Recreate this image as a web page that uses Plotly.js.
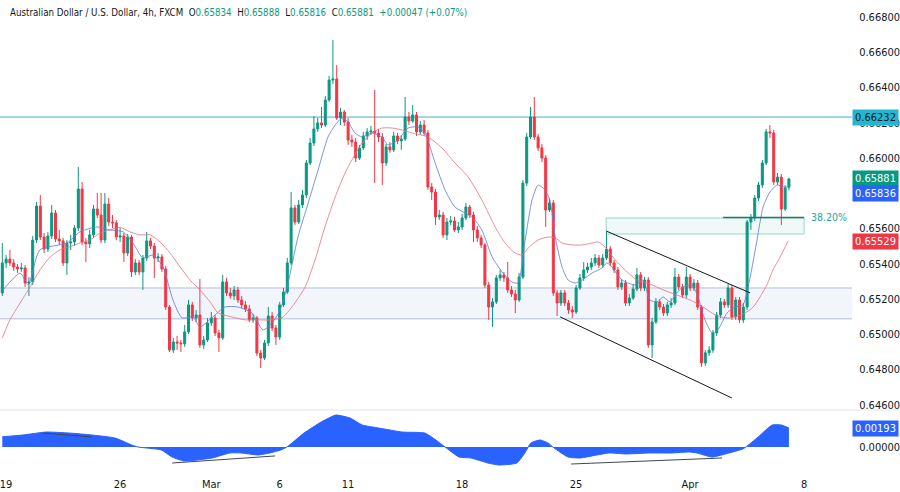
<!DOCTYPE html>
<html><head><meta charset="utf-8">
<script src="https://cdn.plot.ly/plotly-3.0.1.min.js"></script>
<style>html,body{margin:0;padding:0;background:#fff;overflow:hidden}#chart{width:900px;height:492px}</style>
</head><body><div id="chart"></div>
<script>
// ---- candle data (AUD/USD 4h, FXCM) ----
const open = [
0.65235,0.65405,0.65427,0.65405,0.65382,0.65371,0.65376,0.65291,0.65297,0.65535,
0.65728,0.65552,0.65484,0.65558,0.65688,0.65541,0.65530,0.65405,0.65518,0.65524,
0.65603,0.65824,0.65524,0.65513,0.65564,0.65711,0.65677,0.65535,0.65739,0.65637,
0.65632,0.65552,0.65558,0.65461,0.65552,0.65354,0.65405,0.65354,0.65433,0.65530,
0.65501,0.65433,0.65439,0.65371,0.65155,0.64911,0.64957,0.64951,0.64946,0.65014,
0.65167,0.65093,0.65110,0.64940,0.64968,0.65065,0.65093,0.65008,0.64980,0.65297,
0.65235,0.65218,0.65252,0.65195,0.65167,0.65144,0.65082,0.65093,0.64894,0.64866,
0.64951,0.65104,0.65036,0.64985,0.65167,0.65240,0.65405,0.65717,0.65637,0.65734,
0.65790,0.65972,0.66085,0.66165,0.66199,0.66187,0.66329,0.66442,0.66448,0.66227,
0.66261,0.66204,0.66102,0.66091,0.66000,0.66057,0.66125,0.66148,0.66153,0.66142,
0.66119,0.65972,0.66063,0.66046,0.66125,0.66097,0.66108,0.66233,0.66210,0.66244,
0.66148,0.66187,0.66142,0.65836,0.65807,0.65666,0.65677,0.65564,0.65637,0.65643,
0.65592,0.65609,0.65660,0.65722,0.65677,0.65592,0.65547,0.65507,0.65280,0.65155,
0.65184,0.65320,0.65337,0.65320,0.65252,0.65229,0.65195,0.65325,0.65858,0.66119,
0.66233,0.66119,0.66057,0.66000,0.65705,0.65745,0.65235,0.65178,0.65235,0.65178,
0.65138,0.65127,0.65263,0.65320,0.65365,0.65382,0.65405,0.65433,0.65393,0.65433,
0.65484,0.65405,0.65365,0.65269,0.65291,0.65178,0.65206,0.65257,0.65337,0.65263,
0.65308,0.64940,0.65070,0.65184,0.65155,0.65121,0.65167,0.65178,0.65325,0.65269,
0.65223,0.65325,0.65263,0.65291,0.65155,0.64838,0.64895,0.64911,0.65008,0.65110,
0.65184,0.65167,0.65263,0.65099,0.65195,0.65082,0.65155,0.65637,0.65660,0.65773,
0.65847,0.65972,0.66148,0.66142,0.65864,0.65892,0.65711,0.65834];
const high = [
0.65518,0.65450,0.65478,0.65427,0.65399,0.65405,0.65393,0.65325,0.65558,0.65751,
0.65790,0.65575,0.65581,0.65734,0.65705,0.65592,0.65547,0.65535,0.65564,0.65620,
0.65949,0.65864,0.65547,0.65592,0.65734,0.65802,0.65802,0.65802,0.65773,0.65677,
0.65649,0.65603,0.65575,0.65569,0.65564,0.65427,0.65422,0.65450,0.65581,0.65547,
0.65518,0.65461,0.65456,0.65388,0.65167,0.64980,0.64991,0.64968,0.65053,0.65195,
0.65184,0.65138,0.65314,0.64991,0.65093,0.65127,0.65110,0.65025,0.65337,0.65320,
0.65263,0.65274,0.65269,0.65218,0.65189,0.65167,0.65116,0.65104,0.64911,0.64968,
0.65155,0.65127,0.65053,0.65184,0.65263,0.65433,0.65807,0.65734,0.65762,0.65819,
0.65989,0.66114,0.66238,0.66227,0.66289,0.66352,0.66465,0.66669,0.66527,0.66284,
0.66272,0.66227,0.66131,0.66114,0.66074,0.66148,0.66170,0.66182,0.66386,0.66165,
0.66142,0.66080,0.66091,0.66148,0.66142,0.66131,0.66346,0.66261,0.66301,0.66261,
0.66210,0.66216,0.66159,0.65858,0.65824,0.65705,0.65694,0.65660,0.65671,0.65666,
0.65637,0.65683,0.65745,0.65734,0.65694,0.65615,0.65564,0.65518,0.65297,0.65206,
0.65337,0.65365,0.65354,0.65410,0.65274,0.65252,0.65348,0.65875,0.66142,0.66289,
0.66346,0.66136,0.66080,0.66017,0.65773,0.65762,0.65252,0.65252,0.65252,0.65195,
0.65161,0.65280,0.65342,0.65410,0.65405,0.65433,0.65456,0.65450,0.65456,0.65581,
0.65501,0.65422,0.65382,0.65314,0.65308,0.65229,0.65286,0.65376,0.65354,0.65325,
0.65325,0.65093,0.65206,0.65201,0.65172,0.65184,0.65206,0.65376,0.65342,0.65286,
0.65382,0.65342,0.65314,0.65308,0.65167,0.64911,0.64934,0.65025,0.65127,0.65206,
0.65201,0.65286,0.65280,0.65212,0.65212,0.65178,0.65649,0.65683,0.65790,0.65864,
0.65989,0.66165,0.66187,0.66159,0.65915,0.65909,0.65847,0.65888];
const low = [
0.65218,0.65376,0.65388,0.65359,0.65348,0.65354,0.65269,0.65218,0.65280,0.65518,
0.65535,0.65461,0.65467,0.65541,0.65524,0.65507,0.65388,0.65337,0.65478,0.65501,
0.65586,0.65507,0.65410,0.65490,0.65547,0.65660,0.65518,0.65518,0.65615,0.65603,
0.65535,0.65524,0.65410,0.65444,0.65325,0.65337,0.65337,0.65252,0.65416,0.65484,
0.65320,0.65410,0.65354,0.65138,0.64900,0.64894,0.64911,0.64900,0.64929,0.65002,
0.65076,0.65070,0.64923,0.64917,0.64957,0.65048,0.64991,0.64900,0.64968,0.65218,
0.65201,0.65195,0.65178,0.65150,0.65127,0.65070,0.65065,0.64877,0.64809,0.64855,
0.64934,0.65019,0.64940,0.64968,0.65155,0.65229,0.65393,0.65620,0.65626,0.65717,
0.65773,0.65960,0.66068,0.66148,0.66170,0.66176,0.66318,0.66420,0.66216,0.66187,
0.66182,0.66074,0.66063,0.65977,0.65989,0.66046,0.66102,0.66131,0.65858,0.66091,
0.65847,0.65955,0.66029,0.66034,0.66080,0.66046,0.66097,0.66187,0.66199,0.66125,
0.66131,0.66125,0.65819,0.65762,0.65620,0.65649,0.65547,0.65535,0.65620,0.65581,
0.65575,0.65592,0.65649,0.65660,0.65524,0.65524,0.65490,0.65263,0.65082,0.65042,
0.65172,0.65303,0.65297,0.65235,0.65212,0.65121,0.65184,0.65314,0.65841,0.66108,
0.66102,0.66040,0.65977,0.65609,0.65694,0.65218,0.65104,0.65161,0.65161,0.65116,
0.65093,0.65116,0.65252,0.65303,0.65348,0.65365,0.65388,0.65376,0.65376,0.65422,
0.65388,0.65348,0.65252,0.65252,0.65161,0.65161,0.65195,0.65246,0.65246,0.65246,
0.64923,0.64866,0.65059,0.65138,0.65104,0.65104,0.65150,0.65167,0.65252,0.65206,
0.65206,0.65246,0.65246,0.65138,0.64815,0.64821,0.64877,0.64895,0.64991,0.65093,
0.65150,0.65150,0.65082,0.65082,0.65065,0.65065,0.65138,0.65592,0.65643,0.65756,
0.65830,0.65960,0.66114,0.65847,0.65847,0.65620,0.65700,0.65816];
const close = [
0.65405,0.65427,0.65405,0.65382,0.65371,0.65376,0.65291,0.65297,0.65535,0.65728,
0.65552,0.65484,0.65558,0.65688,0.65541,0.65530,0.65405,0.65518,0.65524,0.65603,
0.65824,0.65524,0.65513,0.65564,0.65711,0.65677,0.65535,0.65739,0.65637,0.65632,
0.65552,0.65558,0.65461,0.65552,0.65354,0.65405,0.65354,0.65433,0.65530,0.65501,
0.65433,0.65439,0.65371,0.65155,0.64911,0.64957,0.64951,0.64946,0.65014,0.65167,
0.65093,0.65110,0.64940,0.64968,0.65065,0.65093,0.65008,0.64980,0.65297,0.65235,
0.65218,0.65252,0.65195,0.65167,0.65144,0.65082,0.65093,0.64894,0.64866,0.64951,
0.65104,0.65036,0.64985,0.65167,0.65240,0.65405,0.65717,0.65637,0.65734,0.65790,
0.65972,0.66085,0.66165,0.66199,0.66187,0.66329,0.66442,0.66448,0.66227,0.66261,
0.66204,0.66102,0.66091,0.66000,0.66057,0.66125,0.66148,0.66153,0.66142,0.66119,
0.65972,0.66063,0.66046,0.66125,0.66097,0.66108,0.66233,0.66210,0.66244,0.66148,
0.66187,0.66142,0.65836,0.65807,0.65666,0.65677,0.65564,0.65637,0.65643,0.65592,
0.65609,0.65660,0.65722,0.65677,0.65592,0.65547,0.65507,0.65280,0.65155,0.65184,
0.65320,0.65337,0.65320,0.65252,0.65229,0.65195,0.65325,0.65858,0.66119,0.66233,
0.66119,0.66057,0.66000,0.65705,0.65745,0.65235,0.65178,0.65235,0.65178,0.65138,
0.65127,0.65263,0.65320,0.65365,0.65382,0.65405,0.65433,0.65393,0.65433,0.65484,
0.65405,0.65365,0.65269,0.65291,0.65178,0.65206,0.65257,0.65337,0.65263,0.65308,
0.64940,0.65070,0.65184,0.65155,0.65121,0.65167,0.65178,0.65325,0.65269,0.65223,
0.65325,0.65263,0.65291,0.65155,0.64838,0.64895,0.64911,0.65008,0.65110,0.65184,
0.65167,0.65263,0.65099,0.65195,0.65082,0.65155,0.65637,0.65660,0.65773,0.65847,
0.65972,0.66148,0.66142,0.65864,0.65892,0.65711,0.65830,0.65881];

// ---- moving averages (bar position, value) ----
const fastMaBar = [0.2,4.7,6.8,9.9,17.0,20.4,24.9,28.3,31.8,34.4,37.0,39.7,42.3,44.9,47.3,50.2,52.0,55.4,58.6,62.0,65.7,68.6,71.0,73.1,75.2,77.8,80.5,83.1,85.7,87.6,89.4,91.0,92.8,94.7,97.3,99.9,101.5,104.1,106.8,109.4,111.2,113.9,116.5,119.1,121.8,123.9,126.2,128.9,131.5,134.1,135.7,137.6,139.4,141.0,142.8,144.1,145.5,147.3,148.9,150.7,152.6,155.2,157.8,159.1,160.4,163.1,166.5,168.6,170.4,172.3,173.9,175.7,177.5,179.1,181.5,183.1,184.9,186.8,188.3,190.7,192.8,194.9,196.8,198.6,200.2,202.0,203.9,205.5,206.8];
const fastMaVal = [0.65252,0.65348,0.65280,0.65479,0.65518,0.65581,0.65609,0.65592,0.65581,0.65518,0.65433,0.65450,0.65382,0.65195,0.65093,0.65099,0.65042,0.65099,0.65155,0.65155,0.65121,0.65025,0.65065,0.65138,0.65291,0.65552,0.65745,0.65932,0.66119,0.66187,0.66227,0.66204,0.66142,0.66119,0.66142,0.66119,0.66074,0.66102,0.66170,0.66176,0.66142,0.65972,0.65819,0.65722,0.65688,0.65660,0.65592,0.65439,0.65354,0.65297,0.65291,0.65535,0.65762,0.65847,0.65819,0.65762,0.65552,0.65382,0.65308,0.65291,0.65308,0.65348,0.65376,0.65405,0.65382,0.65308,0.65280,0.65308,0.65195,0.65184,0.65212,0.65184,0.65235,0.65269,0.65280,0.65212,0.65082,0.65008,0.65025,0.65121,0.65155,0.65167,0.65325,0.65535,0.65722,0.65807,0.65847,0.65836,0.65836];
const slowMaBar = [0,2.0,4.7,7.3,9.9,12.6,15.2,17.8,20.4,23.1,25.7,28.3,31.0,33.6,36.2,38.9,41.5,44.1,46.8,49.4,52.0,54.7,56.8,60.4,63.9,67.3,71.0,73.9,77.0,79.7,82.3,84.9,87.6,90.2,92.0,94.7,97.3,99.9,102.6,105.2,107.8,112.0,115.7,119.1,122.6,126.2,129.7,132.3,134.9,136.8,138.4,141.0,143.6,145.5,147.3,149.9,152.6,155.2,156.8,158.6,161.3,163.9,167.0,170.4,173.9,177.5,181.0,184.4,188.1,191.5,195.1,197.6,199.4,201.2,202.8,204.7,206.8];
const slowMaVal = [0.64980,0.65082,0.65178,0.65269,0.65365,0.65439,0.65479,0.65496,0.65518,0.65535,0.65575,0.65592,0.65607,0.65581,0.65564,0.65564,0.65524,0.65462,0.65382,0.65308,0.65252,0.65184,0.65121,0.65099,0.65082,0.65082,0.65082,0.65099,0.65178,0.65269,0.65422,0.65609,0.65779,0.65915,0.65989,0.66085,0.66142,0.66170,0.66170,0.66159,0.66142,0.66119,0.66057,0.65972,0.65892,0.65762,0.65609,0.65518,0.65462,0.65450,0.65490,0.65535,0.65552,0.65547,0.65518,0.65507,0.65507,0.65518,0.65524,0.65496,0.65422,0.65365,0.65308,0.65286,0.65252,0.65223,0.65195,0.65155,0.65104,0.65093,0.65116,0.65155,0.65212,0.65280,0.65365,0.65439,0.65530];

// ---- oscillator (lower pane) ----
const oscBar = [0,5.4,11.5,17.6,23.6,29.7,34.1,35.7,41.8,44.7,47.8,55.2,59.9,62.8,67.3,70.4,73.3,74.9,79.4,83.9,87.8,91.5,94.7,99.1,105.2,111.2,114.1,116.5,120.2,123.3,127.8,130.7,135.4,137.5,139.1,141.5,143.6,145.2,148.9,152.0,156.5,159.7,164.1,170.2,176.2,180.7,182.8,186.8,191.2,194.9,195.7,198.9,202.6,205.0,207];
const oscVal = [0.00104,0.00122,0.00152,0.00142,0.00122,0.00091,0.00020,0,-0.00030,-0.00102,-0.00142,-0.00112,-0.00061,-0.00061,-0.00081,-0.00061,-0.00030,0,0.00142,0.00254,0.00325,0.00295,0.00224,0.00193,0.00152,0.00142,0.00071,0,-0.00102,-0.00112,-0.00163,-0.00183,-0.00163,-0.00061,0.00041,0.00071,0.00041,-0.00010,-0.00102,-0.00112,-0.00081,-0.00061,-0.00071,-0.00061,-0.00061,-0.00051,-0.00061,-0.00102,-0.00061,-0.00020,0,0.00102,0.00224,0.00224,0.00193];

// ---- axis ticks ----
const xTickBars = [1,31,55,73,91,121,151,181,211];
const xTickText = ['19','26','Mar','6','11','18','25','Apr','8'];
const priceTicks = [0.646,0.648,0.650,0.652,0.654,0.656,0.658,0.660,0.662,0.664,0.666,0.668];
const hiddenTicks = [0.658];   // fully covered by the last-value labels in the reference

// ---- drawn levels / objects ----
const resistance = 0.66232;
const zoneLow = 0.65088, zoneHigh = 0.65263;
const fibBox = {x0:158.9, x1:211.0, y0:0.65569, y1:0.65660};
const fibLine = {x0:189.7, x1:211.0, y:0.65663, label:'38.20%'};
const channelUpper = {x:[158.9,196.8], y:[0.65586,0.65235]};
const channelLower = {x:[146.8,192.0], y:[0.65099,0.64639]};
const oscTrendX = [[10.7,23.6],[44.7,71.8],[149.7,189.4]];
const oscTrendY = [[0.00142,0.00102],[-0.00163,-0.00091],[-0.00173,-0.00112]];
const lastValues = {close:'0.65881', fastMa:'0.65836', slowMa:'0.65529', osc:'0.00193'};
const headerChange = '+0.00047 (+0.07%)';

const bars = close.map((_, i) => i);
const FONT = "'Liberation Sans Narrow', 'DejaVu Sans Condensed', 'Liberation Sans', sans-serif";
const GREEN = '#089981', RED = '#f23645', TXT = '#131722';

const traces = [
  {type:'scatter', x:oscBar, y:oscVal, xaxis:'x', yaxis:'y2', mode:'lines',
   line:{color:'#2962ff', width:1, shape:'spline', smoothing:0.5}, fill:'tozeroy', fillcolor:'#2962ff', hoverinfo:'skip'},
  {type:'candlestick', x:bars, open:open, high:high, low:low, close:close, xaxis:'x', yaxis:'y',
   increasing:{line:{color:GREEN, width:1}, fillcolor:GREEN},
   decreasing:{line:{color:RED, width:1}, fillcolor:RED},
   whiskerwidth:0, hoverinfo:'skip'},
  {type:'scatter', x:slowMaBar, y:slowMaVal, xaxis:'x', yaxis:'y', mode:'lines',
   line:{color:'rgba(229,115,125,0.8)', width:1, shape:'spline', smoothing:0.6}, hoverinfo:'skip'},
  {type:'scatter', x:fastMaBar, y:fastMaVal, xaxis:'x', yaxis:'y', mode:'lines',
   line:{color:'rgba(100,130,215,0.85)', width:1, shape:'spline', smoothing:0.6}, hoverinfo:'skip'},
  {type:'scatter', x:channelUpper.x, y:channelUpper.y, xaxis:'x', yaxis:'y', mode:'lines',
   line:{color:'#131722', width:1}, hoverinfo:'skip'},
  {type:'scatter', x:channelLower.x, y:channelLower.y, xaxis:'x', yaxis:'y', mode:'lines',
   line:{color:'#131722', width:1}, hoverinfo:'skip'}
];
oscTrendX.forEach((xs, k) => traces.push({type:'scatter', x:xs, y:oscTrendY[k], xaxis:'x', yaxis:'y2',
  mode:'lines', line:{color:'#434651', width:1}, hoverinfo:'skip'}));

const shapes = [
  {type:'rect', xref:'paper', x0:0, x1:1, yref:'y', y0:zoneLow, y1:zoneHigh,
   fillcolor:'rgba(232,236,250,0.55)', line:{width:0}, layer:'below'},
  {type:'line', xref:'paper', x0:0, x1:1, yref:'y', y0:zoneLow, y1:zoneLow, line:{color:'#b4bdd6', width:1}, layer:'below'},
  {type:'line', xref:'paper', x0:0, x1:1, yref:'y', y0:zoneHigh, y1:zoneHigh, line:{color:'#b4bdd6', width:1}, layer:'below'},
  {type:'rect', xref:'x', x0:fibBox.x0, x1:fibBox.x1, yref:'y', y0:fibBox.y0, y1:fibBox.y1,
   fillcolor:'rgba(38,166,154,0.07)', line:{color:'rgba(38,166,154,0.45)', width:1}, layer:'below'},
  {type:'line', xref:'paper', x0:0, x1:1, yref:'y', y0:resistance, y1:resistance,
   line:{color:'#3fb4c4', width:1}, layer:'below'},
  {type:'line', xref:'x', x0:fibLine.x0, x1:fibLine.x1, yref:'y', y0:fibLine.y, y1:fibLine.y,
   line:{color:'#1e7a62', width:1.5}},
  {type:'line', xref:'paper', x0:0, x1:900/852, yref:'paper', y0:60/470, y1:60/470,
   line:{color:'#e0e3eb', width:1}}
];

function valLabel(y, yref, text, bg, fg, yshift){
  return {xref:'paper', x:1, xanchor:'left', yref:yref, y:y, yanchor:'middle', yshift:yshift||0,
    text:text, showarrow:false, bgcolor:bg, width:42, height:12, borderpad:1.5, align:'center',
    font:{family:FONT, size:11, color:fg}};
}
const g = s => '<span style="color:'+GREEN+'">'+s+'</span>';
const sp = '\u00a0\u00a0';
const n = close.length - 1;
const header = 'Australian Dollar / U.S. Dollar, 4h, FXCM' + sp +
  'O' + g(open[n].toFixed(5)) + sp + 'H' + g(high[n].toFixed(5)) + sp +
  'L' + g(low[n].toFixed(5)) + sp + 'C' + g(close[n].toFixed(5)) + sp + g(headerChange);

const annotations = [
  {xref:'paper', x:8/852, xanchor:'left', yref:'paper', y:(470-12)/470, yanchor:'middle',
   text:header, showarrow:false, font:{family:FONT, size:9.7, color:TXT}},
  {xref:'x', x:212.4, xanchor:'left', yref:'y', y:fibLine.y, yanchor:'middle', text:fibLine.label,
   showarrow:false, font:{family:FONT, size:10.5, color:'#26a69a'}},
  valLabel(resistance, 'y', resistance.toFixed(5), '#22b7d0', TXT, 0),
  valLabel(close[n], 'y', lastValues.close, GREEN, '#ffffff', 0),
  valLabel(0.65836, 'y', lastValues.fastMa, '#2962ff', '#ffffff', -7),
  valLabel(0.65529, 'y', lastValues.slowMa, RED, '#ffffff', 0),
  valLabel(0.00193, 'y2', lastValues.osc, '#2962ff', '#ffffff', 0)
];

const layout = {
  width:900, height:492, margin:{l:0, r:48, t:0, b:22},
  paper_bgcolor:'#ffffff', plot_bgcolor:'#ffffff', showlegend:false,
  font:{family:FONT, size:11, color:TXT},
  xaxis:{range:[-0.605, 223.6], anchor:'y2', tickmode:'array', tickvals:xTickBars, ticktext:xTickText,
    showgrid:false, zeroline:false, showline:false, ticks:'outside', ticklen:4, tickcolor:'rgba(0,0,0,0)',
    ticklabeloverflow:'allow', tickfont:{family:FONT, size:11, color:TXT}, rangeslider:{visible:false}, fixedrange:true},
  yaxis:{domain:[60/470, 1], range:[0.64571, 0.66896], side:'right', anchor:'x',
    tickmode:'array', tickvals:priceTicks,
    ticktext:priceTicks.map(v => hiddenTicks.includes(v) ? '' : v.toFixed(5)),
    showgrid:false, zeroline:false, showline:false, ticks:'outside', ticklen:4, tickcolor:'rgba(0,0,0,0)',
    tickfont:{family:FONT, size:11, color:TXT}, fixedrange:true},
  yaxis2:{domain:[0, 58/470], range:[-0.00234, 0.00356], side:'right', anchor:'x',
    tickmode:'array', tickvals:[0], ticktext:['0.00000'],
    showgrid:false, zeroline:false, showline:false, ticks:'outside', ticklen:4, tickcolor:'rgba(0,0,0,0)',
    tickfont:{family:FONT, size:11, color:TXT}, fixedrange:true},
  shapes:shapes, annotations:annotations, boxgap:0.25
};

Plotly.newPlot('chart', traces, layout, {displayModeBar:false, staticPlot:true});
</script>
</body></html>
